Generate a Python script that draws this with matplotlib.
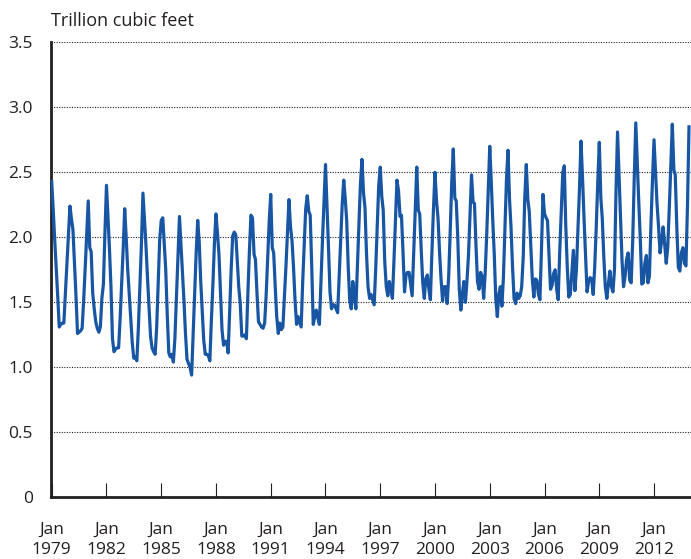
import numpy as np
import pandas as pd
import matplotlib
matplotlib.use('Agg')
import matplotlib.pyplot as plt

# monthly natural gas consumption, trillion cubic feet (Jan..Dec per row)
tcf_1979_1985 = [
    2.43, 2.21, 1.99, 1.77, 1.55, 1.31, 1.33, 1.34, 1.34, 1.56, 1.78, 2.01,  # 1979
    2.24, 2.14, 2.06, 1.80, 1.55, 1.26, 1.27, 1.28, 1.30, 1.51, 1.76, 2.02,  # 1980
    2.28, 1.92, 1.89, 1.57, 1.45, 1.35, 1.30, 1.27, 1.31, 1.53, 1.64, 2.03,  # 1981
    2.40, 2.15, 1.92, 1.62, 1.22, 1.12, 1.14, 1.15, 1.15, 1.37, 1.64, 1.91,  # 1982
    2.22, 1.99, 1.76, 1.57, 1.38, 1.19, 1.07, 1.08, 1.05, 1.30, 1.62, 1.94,  # 1983
    2.34, 2.14, 1.94, 1.69, 1.47, 1.24, 1.15, 1.12, 1.10, 1.30, 1.65, 1.98,  # 1984
    2.13, 2.15, 1.96, 1.75, 1.41, 1.11, 1.08, 1.10, 1.04, 1.22, 1.54, 1.86,  # 1985
]
tcf_1986_1992 = [
    2.16, 1.94, 1.73, 1.51, 1.26, 1.06, 1.03, 1.00, 0.94, 1.25, 1.57, 1.88,  # 1986
    2.13, 1.96, 1.67, 1.44, 1.21, 1.10, 1.10, 1.09, 1.05, 1.36, 1.64, 1.95,  # 1987
    2.18, 2.03, 1.87, 1.57, 1.29, 1.17, 1.20, 1.20, 1.11, 1.42, 1.76, 2.01,  # 1988
    2.04, 2.02, 1.83, 1.62, 1.49, 1.24, 1.24, 1.25, 1.22, 1.57, 1.90, 2.17,  # 1989
    2.15, 1.87, 1.83, 1.57, 1.35, 1.33, 1.31, 1.30, 1.34, 1.55, 1.85, 2.12,  # 1990
    2.33, 1.92, 1.88, 1.62, 1.39, 1.26, 1.34, 1.29, 1.31, 1.54, 1.77, 2.03,  # 1991
    2.29, 2.08, 1.98, 1.77, 1.52, 1.33, 1.39, 1.35, 1.31, 1.65, 1.95, 2.22,  # 1992
]
tcf_1993_1999 = [
    2.32, 2.20, 2.17, 1.77, 1.33, 1.39, 1.44, 1.38, 1.33, 1.65, 1.97, 2.27,  # 1993
    2.56, 2.24, 1.93, 1.58, 1.45, 1.48, 1.48, 1.45, 1.42, 1.70, 2.00, 2.25,  # 1994
    2.44, 2.29, 2.13, 1.77, 1.51, 1.45, 1.66, 1.55, 1.45, 1.78, 2.10, 2.41,  # 1995
    2.60, 2.34, 2.23, 1.87, 1.62, 1.53, 1.56, 1.52, 1.48, 1.75, 2.08, 2.40,  # 1996
    2.54, 2.31, 2.21, 1.81, 1.62, 1.55, 1.66, 1.60, 1.53, 1.81, 2.13, 2.44,  # 1997
    2.36, 2.16, 2.17, 1.89, 1.58, 1.71, 1.73, 1.73, 1.64, 1.55, 1.87, 2.20,  # 1998
    2.54, 2.21, 2.18, 1.90, 1.65, 1.53, 1.68, 1.71, 1.60, 1.52, 1.89, 2.21,  # 1999
]
tcf_2000_2006 = [
    2.50, 2.28, 2.15, 1.89, 1.68, 1.51, 1.62, 1.62, 1.49, 1.70, 2.05, 2.42,  # 2000
    2.68, 2.30, 2.28, 2.00, 1.60, 1.44, 1.56, 1.66, 1.50, 1.66, 1.86, 2.16,  # 2001
    2.48, 2.27, 2.26, 1.93, 1.66, 1.60, 1.73, 1.70, 1.53, 1.72, 2.02, 2.36,  # 2002
    2.70, 2.42, 2.14, 1.87, 1.53, 1.39, 1.56, 1.62, 1.47, 1.69, 2.06, 2.44,  # 2003
    2.67, 2.29, 2.08, 1.77, 1.53, 1.49, 1.57, 1.53, 1.55, 1.62, 1.85, 2.30,  # 2004
    2.56, 2.29, 2.20, 1.94, 1.68, 1.54, 1.68, 1.67, 1.56, 1.52, 1.91, 2.33,  # 2005
    2.18, 2.15, 2.13, 1.86, 1.60, 1.63, 1.72, 1.75, 1.60, 1.52, 1.89, 2.20,  # 2006
]
tcf_2007_2013 = [
    2.50, 2.55, 2.10, 1.77, 1.54, 1.56, 1.73, 1.90, 1.59, 1.75, 2.06, 2.37,  # 2007
    2.74, 2.45, 2.15, 1.87, 1.58, 1.66, 1.69, 1.68, 1.56, 1.77, 2.08, 2.42,  # 2008
    2.73, 2.30, 2.15, 1.85, 1.62, 1.53, 1.64, 1.74, 1.62, 1.58, 1.75, 2.35,  # 2009
    2.81, 2.47, 2.15, 1.82, 1.62, 1.70, 1.83, 1.88, 1.67, 1.65, 1.98, 2.45,  # 2010
    2.88, 2.56, 2.28, 1.99, 1.64, 1.65, 1.80, 1.86, 1.65, 1.70, 2.10, 2.44,  # 2011
    2.75, 2.49, 2.26, 2.08, 1.88, 1.97, 2.08, 1.95, 1.80, 1.92, 2.22, 2.54,  # 2012
    2.87, 2.52, 2.48, 2.08, 1.77, 1.74, 1.88, 1.92, 1.80, 1.78, 2.25, 2.85,  # 2013
]
tick_years = [1979, 1982, 1985, 1988, 1991, 1994, 1997, 2000, 2003, 2006, 2009, 2012]
y_ticks = [0, 0.5, 1.0, 1.5, 2.0, 2.5, 3.0, 3.5]
y_labels = ['0', '0.5', '1.0', '1.5', '2.0', '2.5', '3.0', '3.5']

values = tcf_1979_1985 + tcf_1986_1992 + tcf_1993_1999 + tcf_2000_2006 + tcf_2007_2013
months = pd.date_range('1979-01-01', periods=len(values), freq='MS')

plt.rcParams['font.family'] = ['Open Sans', 'DejaVu Sans']
ink = '#231f20'

fig = plt.figure(figsize=(6.91, 5.59), dpi=100)
ax = fig.add_axes([0.0738, 0.1104, 0.9262, 0.8139])

# dotted horizontal grid
for v in y_ticks[1:]:
    ax.axhline(v, color=ink, lw=0.8, ls=(0, (1, 1.3)), zorder=1)

ax.plot(months, values, color='#1856a3', lw=2.3, solid_joinstyle='round', zorder=3)

ax.set_ylim(0, 3.5)
ax.set_xlim(pd.Timestamp('1978-12-18'), pd.Timestamp('2014-01-10'))
ax.set_yticks(y_ticks)
ax.set_yticklabels(y_labels)
ax.set_xticks([pd.Timestamp(f'{y}-01-01') for y in tick_years])
ax.set_xticklabels([f'Jan\n{y}' for y in tick_years], linespacing=1.28)

for s in ['top', 'right']:
    ax.spines[s].set_visible(False)
for s in ['left', 'bottom']:
    ax.spines[s].set_color(ink)
    ax.spines[s].set_linewidth(2.0)

ax.tick_params(axis='y', length=0, pad=13, labelsize=12.5, labelcolor=ink)
ax.tick_params(axis='x', direction='in', length=10, width=0.8, color=ink,
               pad=18, labelsize=12.5, labelcolor=ink)

fig.text(0.074, 0.954, 'Trillion cubic feet', fontsize=13, color=ink,
         ha='left', va='baseline')

fig.savefig('out.png', dpi=100)
